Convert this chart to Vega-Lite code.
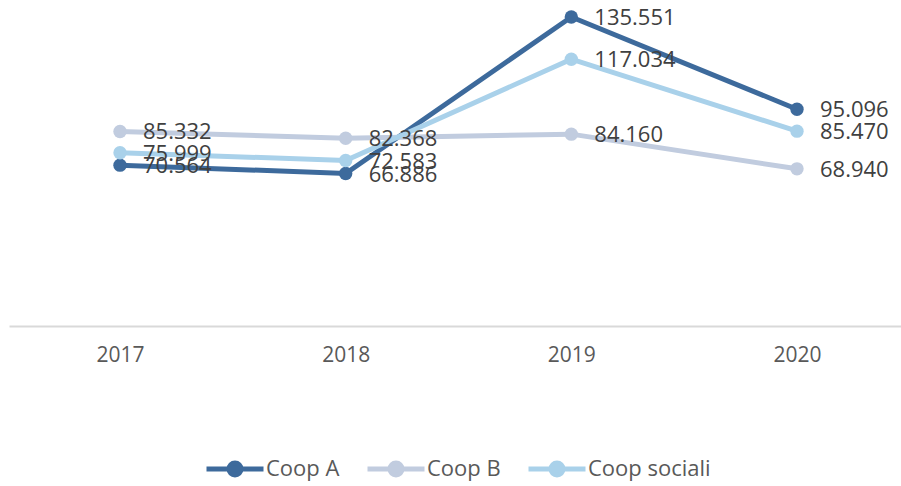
{
  "$schema": "https://vega.github.io/schema/vega-lite/v6.json",
  "width": 892,
  "height": 326,
  "autosize": "none",
  "padding": {"left": 9, "top": 0, "right": 0, "bottom": 160},
  "background": "white",
  "config": {
    "view": {"stroke": null},
    "font": "Open Sans"
  },
  "data": {
    "values": [
      {"anno": 2017, "serie": "Coop A", "valore": 70.564},
      {"anno": 2018, "serie": "Coop A", "valore": 66.886},
      {"anno": 2019, "serie": "Coop A", "valore": 135.551},
      {"anno": 2020, "serie": "Coop A", "valore": 95.096},
      {"anno": 2017, "serie": "Coop B", "valore": 85.332},
      {"anno": 2018, "serie": "Coop B", "valore": 82.368},
      {"anno": 2019, "serie": "Coop B", "valore": 84.160},
      {"anno": 2020, "serie": "Coop B", "valore": 68.940},
      {"anno": 2017, "serie": "Coop sociali", "valore": 75.999},
      {"anno": 2018, "serie": "Coop sociali", "valore": 72.583},
      {"anno": 2019, "serie": "Coop sociali", "valore": 117.034},
      {"anno": 2020, "serie": "Coop sociali", "valore": 85.470}
    ]
  },
  "encoding": {
    "x": {
      "field": "anno", "type": "quantitative",
      "scale": {"domain": [2016.508, 2020.461], "nice": false, "zero": false},
      "axis": {
        "title": null, "values": [2017, 2018, 2019, 2020], "format": "d",
        "grid": false, "ticks": false,
        "domainColor": "#D9D9D9", "domainWidth": 2,
        "labelFont": "Open Sans", "labelFontSize": 21, "labelColor": "#595959",
        "labelPadding": 18
      }
    },
    "y": {
      "field": "valore", "type": "quantitative",
      "scale": {"domain": [0, 143], "nice": false},
      "axis": null
    },
    "color": {
      "field": "serie", "type": "nominal",
      "scale": {"domain": ["Coop A", "Coop B", "Coop sociali"], "range": ["#3D6A9C", "#C1CCDF", "#A9D1EA"]},
      "legend": {
        "title": null,
        "orient": "none",
        "direction": "horizontal",
        "legendX": 195,
        "legendY": 438,
        "symbolType": "M-1,0L1,0M-0.21,0A0.21,0.21,0,1,1,0.21,0A0.21,0.21,0,1,1,-0.21,0Z",
        "symbolSize": 3249,
        "symbolStrokeWidth": 5,
        "labelFont": "Open Sans",
        "labelFontSize": 22,
        "labelColor": "#595959",
        "labelOffset": 0,
        "columnPadding": 17,
        "encode": {
          "symbols": {
            "update": {
              "stroke": {"scale": "color", "field": "value"},
              "fill": {"scale": "color", "field": "value"},
              "opacity": {"value": 1}
            }
          }
        }
      }
    }
  },
  "layer": [
    {"mark": {"type": "line", "strokeWidth": 5}},
    {"mark": {"type": "point", "filled": true, "size": 180, "opacity": 1}},
    {
      "mark": {"type": "text", "align": "left", "baseline": "middle", "dx": 23, "dy": 1, "font": "Open Sans", "fontSize": 22, "color": "#404040"},
      "encoding": {
        "text": {"field": "valore", "type": "quantitative", "format": ".3f"},
        "color": {"value": "#404040"}
      }
    }
  ]
}
